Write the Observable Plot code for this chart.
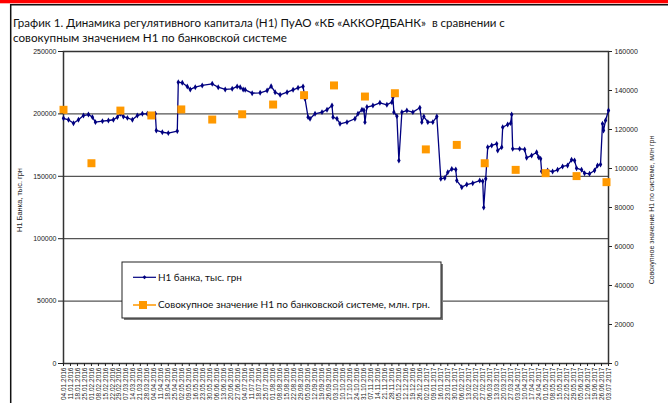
<!DOCTYPE html>
<html><head><meta charset="utf-8">
<script src="https://cdn.jsdelivr.net/npm/d3@7"></script>
<script src="https://cdn.jsdelivr.net/npm/@observablehq/plot@0.6"></script>
<style>
html,body{margin:0;padding:0;background:#fff;}
#wrap{position:relative;width:668px;height:403px;overflow:hidden;background:#fff;}
#wrap > svg{position:absolute;left:0;top:0;}
</style>
</head><body>
<div id="wrap"></div>
<script>
// ---------- DATA ----------
const titleLines = [
  "График 1. Динамика регулятивного капитала (Н1) ПуАО «КБ «АККОРДБАНК»  в сравнении с",
  "совокупным значением Н1 по банковской системе"
];
const leftTitle = "Н1 Банка, тыс. грн";
const rightTitle = "Совокупное значение Н1 по системе, млн грн";
const seriesNames = ["Н1 банка, тыс. грн", "Совокупное значение Н1 по банковской системе, млн. грн."];

const bankDates = [
"2016-01-04","2016-01-09","2016-01-14","2016-01-19","2016-01-24","2016-01-29","2016-02-02","2016-02-05","2016-02-12","2016-02-18",
"2016-02-23","2016-02-27","2016-03-01","2016-03-04","2016-03-08","2016-03-13","2016-03-18","2016-03-23","2016-03-28","2016-04-05",
"2016-04-06","2016-04-12","2016-04-18","2016-04-27","2016-04-28","2016-05-02","2016-05-07","2016-05-10","2016-05-15","2016-05-22",
"2016-06-01","2016-06-07","2016-06-14","2016-06-21","2016-06-26","2016-06-29","2016-07-02","2016-07-04","2016-07-11","2016-07-19",
"2016-07-26","2016-07-30","2016-08-03","2016-08-08","2016-08-15","2016-08-21","2016-08-26","2016-08-31","2016-09-02","2016-09-05",
"2016-09-07","2016-09-12","2016-09-19","2016-09-24","2016-09-29","2016-09-30","2016-10-04","2016-10-07","2016-10-14","2016-10-22",
"2016-10-25","2016-10-29","2016-10-31","2016-11-01","2016-11-03","2016-11-09","2016-11-16","2016-11-23","2016-11-28","2016-11-29",
"2016-11-30","2016-12-03","2016-12-05","2016-12-08","2016-12-13","2016-12-19","2016-12-26","2016-12-28","2016-12-30","2017-01-03",
"2017-01-08","2017-01-12","2017-01-16","2017-01-20","2017-01-23","2017-01-27","2017-01-31","2017-02-01","2017-02-06","2017-02-11",
"2017-02-17","2017-02-24","2017-02-27","2017-02-28","2017-03-02","2017-03-04","2017-03-08","2017-03-13","2017-03-14","2017-03-18",
"2017-03-19","2017-03-24","2017-03-27","2017-03-28","2017-03-29","2017-04-05","2017-04-10","2017-04-12","2017-04-17","2017-04-22",
"2017-04-24","2017-04-26","2017-04-27","2017-05-03","2017-05-08","2017-05-13","2017-05-18","2017-05-23","2017-05-27","2017-05-30",
"2017-06-01","2017-06-06","2017-06-09","2017-06-14","2017-06-19","2017-06-22","2017-06-25","2017-06-27","2017-06-28","2017-06-30",
"2017-07-03"
];
const bankValues = [
196500,195300,192500,195300,198700,199500,197400,193400,194200,194700,
195300,197400,200100,197900,196800,195300,198700,200100,200100,200100,
186700,185300,184600,186200,225400,224900,222000,219600,221400,222800,
224100,221400,219600,220100,222000,221400,219600,219300,216600,216900,
218700,222200,217400,215300,217400,219300,220900,222000,212100,197400,
196100,200100,201400,203300,206700,197400,196100,192100,193400,196100,
200100,203300,203000,193400,205500,206700,208900,207300,209400,213400,
201400,198200,162700,201400,202700,201400,204900,193400,197900,193400,
193400,197900,148000,148700,153300,155900,155400,146600,141300,143400,
144500,146600,146000,125000,148000,173300,174700,176000,170700,173300,
189300,191500,192600,199500,172000,172000,171500,164800,166700,169300,
165300,164000,154100,154600,153800,155200,157900,158700,163200,162700,
156500,155200,152500,152000,154600,158700,159500,192100,186700,194700,
202700
];
const systemDates = [
"2016-01-04","2016-02-01","2016-03-01","2016-04-01","2016-05-01","2016-06-01","2016-07-01","2016-08-01","2016-09-01","2016-10-01",
"2016-11-01","2016-12-01","2017-01-01","2017-02-01","2017-03-01","2017-04-01","2017-05-01","2017-06-01","2017-07-01"
];
const systemValues = [
130100,102700,129700,127200,130300,125100,127800,132800,137600,142600,
136900,138600,109800,112100,102700,99300,97600,96100,93000
];
const leftTicks = [0, 50000, 100000, 150000, 200000, 250000];
const rightTicks = [0, 20000, 40000, 60000, 80000, 100000, 120000, 140000, 160000];
const gridValues = [50000, 100000, 150000, 200000];
const xTickFirst = "2016-01-04", xTickLast = "2017-07-03";
const leftMax = 250000, rightMax = 160000;

// ---------- BUILD ----------
const K = leftMax / rightMax;
const bank = bankDates.map((d, i) => ({date: new Date(d), value: bankValues[i]}));
const sys = systemDates.map((d, i) => ({date: new Date(d), value: systemValues[i]}));
const xTicks = d3.utcDay.range(new Date(xTickFirst), d3.utcDay.offset(new Date(xTickLast), 1), 7);
const fmt = d3.utcFormat("%d.%m.%Y");
const NAVY = "#000080", ORANGE = "#FF9900";

const chart = Plot.plot({
  width: 668, height: 403,
  marginTop: 51, marginBottom: 40, marginLeft: 63, marginRight: 60,
  style: {fontFamily: '"Liberation Sans", Arial, sans-serif', fontSize: "7px", background: "transparent", color: "#222", overflow: "visible"},
  x: {type: "utc", domain: [new Date(xTickFirst), new Date(xTickLast)]},
  y: {domain: [0, leftMax]},
  marks: [
    Plot.ruleY(gridValues, {stroke: "#555", strokeWidth: 1.2}),
    Plot.frame({stroke: "#333", strokeWidth: 1.5}),
    Plot.line(bank, {x: "date", y: "value", stroke: NAVY, strokeWidth: 1.3}),
    Plot.dot(bank, {x: "date", y: "value", symbol: "diamond", r: 1.8, fill: NAVY}),
    Plot.dot(sys, {x: "date", y: d => d.value * K, symbol: "square", r: 4.5, fill: ORANGE}),
    Plot.axisY(leftTicks, {anchor: "left", tickFormat: d => String(d), tickSize: 5, tickPadding: 2, label: null}),
    Plot.axisY(rightTicks.map(v => v * K), {anchor: "right", tickFormat: d => String(Math.round(d / K)), tickSize: 3, tickPadding: 3, label: null}),
    Plot.axisX(xTicks, {anchor: "bottom", tickFormat: fmt, tickRotate: -90, tickSize: 3, tickPadding: 1, label: null, fontSize: 6.5})
  ]
});
const wrap = document.getElementById("wrap");
wrap.appendChild(chart);

// ---------- OVERLAY: frame, titles, legend ----------
const ov = d3.select(wrap).append("svg").attr("width", 668).attr("height", 403);
ov.append("rect").attr("x", 0).attr("y", 0).attr("width", 668).attr("height", 3.3).attr("fill", "#ff0000");
ov.append("path").attr("d", "M10.7,403V4.8H668").attr("fill", "none").attr("stroke", "#111").attr("stroke-width", 1.5);

function fit(sel, target) {
  const node = sel.node();
  const fs = parseFloat(sel.attr("font-size"));
  const w = node.getComputedTextLength();
  if (w > 0) sel.attr("font-size", (fs * target / w).toFixed(2));
}
const titleFont = 'Lato, "Open Sans", sans-serif';
const t1 = ov.append("text").attr("x", 13).attr("y", 26.5).attr("font-family", titleFont).attr("font-size", 12)
  .attr("fill", "#111").style("white-space", "pre").attr("xml:space", "preserve").text(titleLines[0]);
fit(t1, 492);
const t2 = ov.append("text").attr("x", 13).attr("y", 41.5).attr("font-family", titleFont).attr("font-size", 12).attr("fill", "#111").text(titleLines[1]);
fit(t2, 274);

const lt = ov.append("text").attr("transform", "translate(22,200) rotate(-90)").attr("text-anchor", "middle")
  .attr("font-family", '"Liberation Sans", Arial, sans-serif').attr("font-size", 7).attr("fill", "#222").text(leftTitle);
fit(lt, 64);
ov.append("text").attr("transform", "translate(654,210) rotate(-90)").attr("text-anchor", "middle")
  .attr("font-family", '"Liberation Sans", Arial, sans-serif').attr("font-size", 7).attr("fill", "#222").text(rightTitle);

// legend
const lg = ov.append("g");
lg.append("rect").attr("x", 124).attr("y", 264).attr("width", 319).attr("height", 56).attr("fill", "#7a7a7a");
lg.append("rect").attr("x", 122).attr("y", 262).attr("width", 319).attr("height", 56).attr("fill", "#fff").attr("stroke", "#222").attr("stroke-width", 1);
lg.append("line").attr("x1", 133).attr("x2", 156).attr("y1", 277.3).attr("y2", 277.3).attr("stroke", NAVY).attr("stroke-width", 1.2);
lg.append("path").attr("d", "M144.5,275.3L146.5,277.3L144.5,279.3L142.5,277.3Z").attr("fill", NAVY);
lg.append("line").attr("x1", 133).attr("x2", 156).attr("y1", 305).attr("y2", 305).attr("stroke", ORANGE).attr("stroke-width", 1.5);
lg.append("rect").attr("x", 139).attr("y", 301).attr("width", 8).attr("height", 8).attr("fill", ORANGE);
const l1 = lg.append("text").attr("x", 158).attr("y", 280.5).attr("font-family", titleFont).attr("font-size", 9).attr("fill", "#111").text(seriesNames[0]);
fit(l1, 84);
const l2 = lg.append("text").attr("x", 158).attr("y", 308).attr("font-family", titleFont).attr("font-size", 9).attr("fill", "#111").text(seriesNames[1]);
fit(l2, 272);
</script>
</body></html>
